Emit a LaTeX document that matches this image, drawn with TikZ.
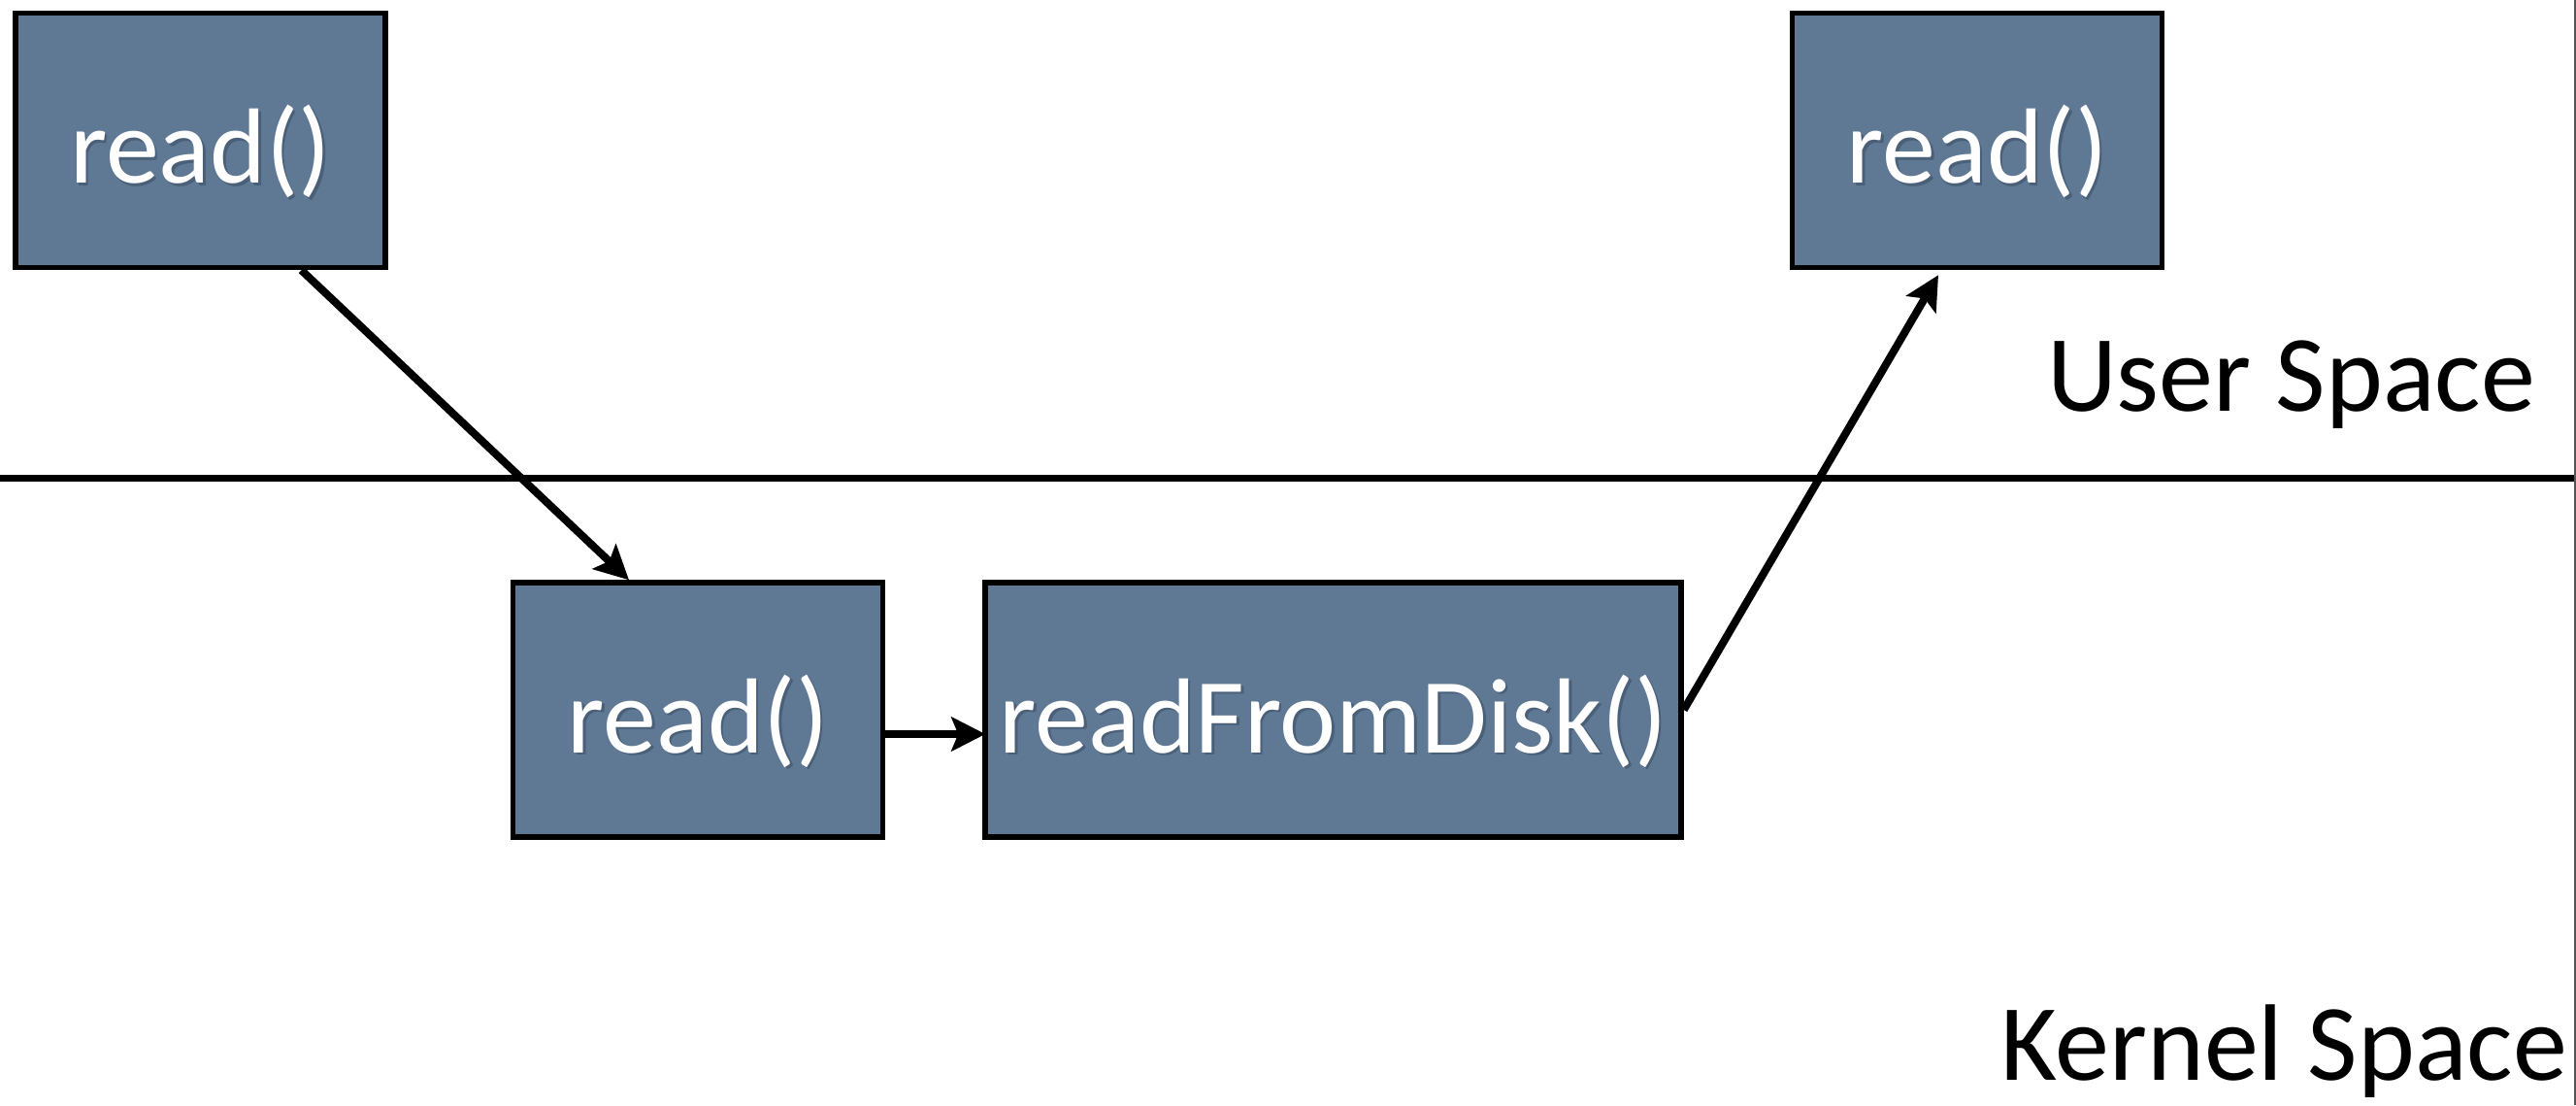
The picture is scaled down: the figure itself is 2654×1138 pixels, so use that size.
\documentclass[tikz,border=0pt]{standalone}
\usepackage{fontspec}
\setmainfont{Carlito}
\usetikzlibrary{arrows.meta}

\definecolor{boxblue}{HTML}{5F7894}
\definecolor{boxshade}{HTML}{4A5F78}
\definecolor{edgegrey}{HTML}{555555}

% white label with a soft dark offset copy underneath
\newcommand\castlabel[1]{\makebox[0pt][l]{\hspace{2.5pt}\raisebox{-2.5pt}{\textcolor{boxshade}{#1}}}#1}

\begin{document}
\begin{tikzpicture}[x=1pt,y=-1pt,
  fnbox/.style={draw=black, line width=5.5pt, fill=boxblue, text=white,
    font=\fontsize{110}{120}\selectfont, inner sep=0pt,
    minimum width=381pt, minimum height=262pt,
    text height=88pt, text depth=0pt},
  conn/.style={line width=8pt, -{Stealth[length=35pt,width=35pt,inset=7pt]}},
  tag/.style={font=\fontsize{112}{120}\selectfont, anchor=base east, inner sep=0pt}]

  \useasboundingbox (0,0) rectangle (2654,1138);

  % user / kernel divider and right frame edge
  \draw[line width=7pt] (0,492.5) -- (2654,492.5);
  \draw[edgegrey, line width=2pt] (2652.5,0) -- (2652.5,1138);

  % call boxes
  \node[fnbox] (u1) at (206.5,144.5) {\castlabel{read()}};
  \node[fnbox] (u2) at (2037,144.5) {\castlabel{read()}};
  \node[fnbox] (k1) at (719,731) {\castlabel{read()}};
  \node[fnbox, minimum width=717pt] (k2) at (1373.5,731) {\castlabel{readFromDisk()}};

  % region labels
  \node[tag] (us) at (2612,423) {User Space};
  \node[tag] (ks) at (2645,1112) {Kernel Space};

  % call flow
  \draw[conn] ([xshift=104pt]u1.south) -- ([xshift=-71pt]k1.north);
  \draw[conn] ([yshift=-25pt]k1.east) -- ([xshift=3pt,yshift=-25pt]k2.west);
  \draw[conn] (k2.east) -- ([xshift=-40pt,yshift=-5pt]u2.south);
\end{tikzpicture}
\end{document}
